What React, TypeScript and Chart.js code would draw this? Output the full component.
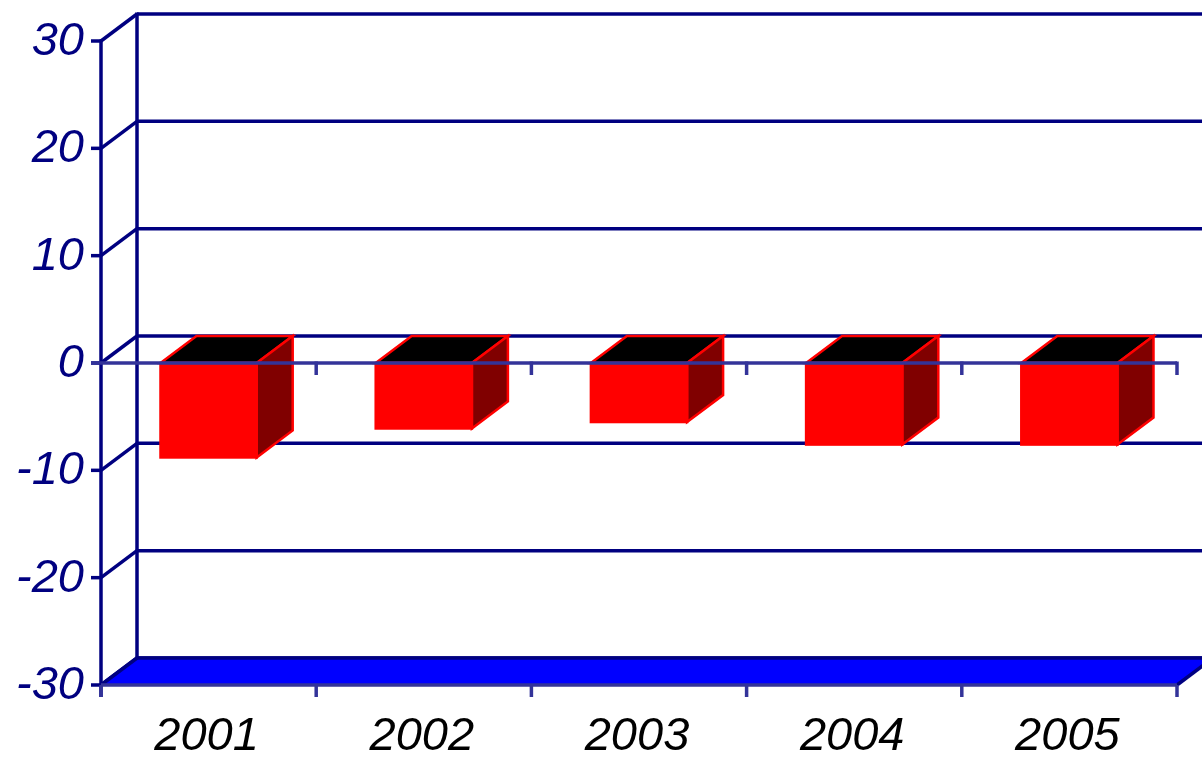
import React, { useEffect, useRef } from "react";
import { Chart, registerables } from "chart.js";

Chart.register(...registerables);

const categories = ["2001", "2002", "2003", "2004", "2005"];
const values = [-8.8, -6.1, -5.5, -7.6, -7.6];
const yTicks = [-30, -20, -10, 0, 10, 20, 30];

const DX = 36;
const DY = -27;
const NAVY = "#000080";
const AXIS = "#333399";
const FONT = "italic 47px 'Liberation Sans', Arial, sans-serif";
const LW = 3.5;

const threeD = {
  id: "threeD",
  beforeDatasetsDraw(chart: any) {
    const ctx = chart.ctx as CanvasRenderingContext2D;
    const x = chart.scales.x;
    const y = chart.scales.y;
    const L = chart.chartArea.left;
    const R = chart.chartArea.right;
    const yTop = y.getPixelForValue(30);
    const yBot = y.getPixelForValue(-30);
    ctx.save();
    ctx.lineCap = "butt";
    ctx.strokeStyle = NAVY;
    ctx.lineWidth = LW;
    for (const t of yTicks) {
      const py = y.getPixelForValue(t);
      // back wall gridlines
      ctx.beginPath();
      ctx.moveTo(L + DX, py + DY);
      ctx.lineTo(R + DX, py + DY);
      ctx.stroke();
      // side wall diagonals
      ctx.beginPath();
      ctx.moveTo(L, py);
      ctx.lineTo(L + DX, py + DY);
      ctx.stroke();
      // tick marks
      ctx.beginPath();
      ctx.moveTo(L - 10, py);
      ctx.lineTo(L, py);
      ctx.stroke();
    }
    // back wall left edge
    ctx.beginPath();
    ctx.moveTo(L + DX, yTop + DY - 1.5);
    ctx.lineTo(L + DX, yBot + DY);
    ctx.stroke();
    // front vertical axis
    ctx.beginPath();
    ctx.moveTo(L, yTop - 1.5);
    ctx.lineTo(L, yBot + 12);
    ctx.stroke();
    // floor
    ctx.fillStyle = "#0000FF";
    ctx.beginPath();
    ctx.moveTo(L, yBot);
    ctx.lineTo(R, yBot);
    ctx.lineTo(R + DX, yBot + DY);
    ctx.lineTo(L + DX, yBot + DY);
    ctx.closePath();
    ctx.fill();
    ctx.strokeStyle = NAVY;
    ctx.beginPath();
    ctx.moveTo(L + DX, yBot + DY);
    ctx.lineTo(R + DX, yBot + DY);
    ctx.stroke();
    ctx.beginPath();
    ctx.moveTo(L, yBot);
    ctx.lineTo(L + DX, yBot + DY);
    ctx.stroke();
    ctx.beginPath();
    ctx.moveTo(R, yBot);
    ctx.lineTo(R + DX, yBot + DY);
    ctx.stroke();
    ctx.strokeStyle = AXIS;
    ctx.beginPath();
    ctx.moveTo(L, yBot);
    ctx.lineTo(R, yBot);
    ctx.stroke();
    // category ticks at bottom
    const n = categories.length;
    const step = x.getPixelForValue(1) - x.getPixelForValue(0);
    for (let i = 0; i <= n; i++) {
      const px = i < n ? x.getPixelForValue(i) - step / 2 : R;
      ctx.beginPath();
      ctx.moveTo(px, yBot);
      ctx.lineTo(px, yBot + 12);
      ctx.stroke();
    }
    ctx.restore();
  },
  afterDatasetsDraw(chart: any) {
    const ctx = chart.ctx as CanvasRenderingContext2D;
    const x = chart.scales.x;
    const y = chart.scales.y;
    const L = chart.chartArea.left;
    const R = chart.chartArea.right;
    const meta = chart.getDatasetMeta(0);
    ctx.save();
    ctx.lineJoin = "miter";
    ctx.strokeStyle = "#FF0000";
    ctx.lineWidth = 2.5;
    for (const el of meta.data) {
      const p = el.getProps(["x", "y", "base", "width"], true);
      const l = p.x - p.width / 2;
      const r = p.x + p.width / 2;
      const top = Math.min(p.y, p.base);
      const bot = Math.max(p.y, p.base);
      // top face
      ctx.fillStyle = "#000000";
      ctx.beginPath();
      ctx.moveTo(l, top);
      ctx.lineTo(r, top);
      ctx.lineTo(r + DX, top + DY);
      ctx.lineTo(l + DX, top + DY);
      ctx.closePath();
      ctx.fill();
      ctx.stroke();
      // side face
      ctx.fillStyle = "#800000";
      ctx.beginPath();
      ctx.moveTo(r, top);
      ctx.lineTo(r + DX, top + DY);
      ctx.lineTo(r + DX, bot + DY);
      ctx.lineTo(r, bot);
      ctx.closePath();
      ctx.fill();
      ctx.stroke();
      // front outline
      ctx.strokeRect(l, top, r - l, bot - top);
    }
    // front zero axis line
    const y0 = y.getPixelForValue(0);
    ctx.strokeStyle = AXIS;
    ctx.lineWidth = LW;
    ctx.beginPath();
    ctx.moveTo(L - 10, y0);
    ctx.lineTo(R, y0);
    ctx.stroke();
    const n = categories.length;
    const step = x.getPixelForValue(1) - x.getPixelForValue(0);
    for (let i = 1; i <= n; i++) {
      const px = i < n ? x.getPixelForValue(i) - step / 2 : R;
      ctx.beginPath();
      ctx.moveTo(px, y0 - 1.5);
      ctx.lineTo(px, y0 + 12);
      ctx.stroke();
    }
    ctx.restore();
  },
  afterDraw(chart: any) {
    const ctx = chart.ctx as CanvasRenderingContext2D;
    const x = chart.scales.x;
    const y = chart.scales.y;
    const L = chart.chartArea.left;
    ctx.save();
    ctx.font = FONT;
    ctx.fillStyle = NAVY;
    ctx.textAlign = "right";
    ctx.textBaseline = "middle";
    for (const t of yTicks) {
      ctx.fillText(String(t), L - 17, y.getPixelForValue(t) + 1);
    }
    ctx.fillStyle = "#000000";
    ctx.textAlign = "center";
    categories.forEach((c, i) => {
      ctx.fillText(c, x.getPixelForValue(i) - 2, 737);
    });
    ctx.restore();
  },
};

export default function App() {
  const ref = useRef<HTMLCanvasElement>(null);
  useEffect(() => {
    document.body.style.margin = "0";
    const chart = new Chart(ref.current as HTMLCanvasElement, {
      type: "bar",
      data: {
        labels: categories,
        datasets: [
          {
            data: values,
            backgroundColor: "#FF0000",
            borderColor: "#FF0000",
            borderWidth: 0,
            barPercentage: 0.447,
            categoryPercentage: 1,
          },
        ],
      },
      options: {
        animation: false,
        responsive: false,
        layout: { padding: { left: 101, right: 25, top: 41, bottom: 72 } },
        plugins: { legend: { display: false }, tooltip: { enabled: false } },
        scales: {
          x: { display: false, offset: true },
          y: { display: false, min: -30, max: 30, ticks: { stepSize: 10 } },
        },
      },
      plugins: [threeD],
    });
    return () => chart.destroy();
  }, []);
  return (
    <div style={{ position: "absolute", left: 0, top: 0, width: 1202, height: 757 }}>
      <canvas ref={ref} width={1202} height={757} style={{ display: "block" }} />
    </div>
  );
}
